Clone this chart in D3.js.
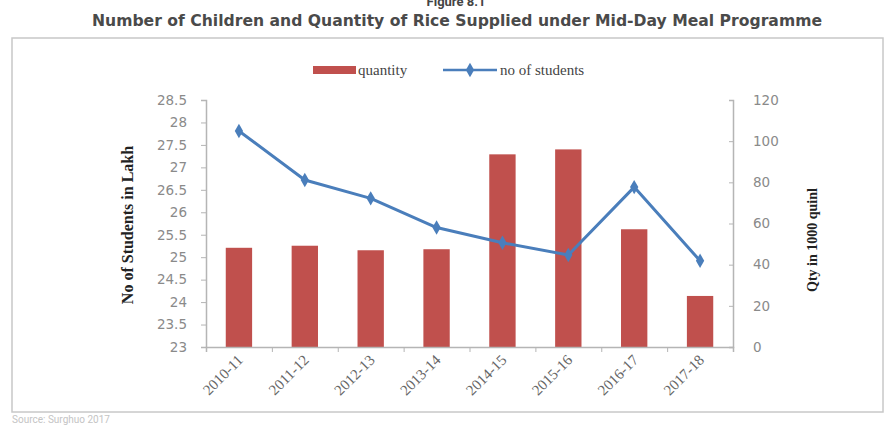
<!DOCTYPE html>
<html><head><meta charset="utf-8">
<script src="https://cdn.jsdelivr.net/npm/d3@7"></script>
<style>body{margin:0;background:#fff;} svg{display:block;}</style>
</head><body>
<svg id="c" width="889" height="426"></svg>
<script>
const categories = ["2010-11","2011-12","2012-13","2013-14","2014-15","2015-16","2016-17","2017-18"];
const quantity = [48.2, 49.2, 47.0, 47.5, 93.6, 96.0, 57.2, 24.8];
const students = [27.81, 26.72, 26.31, 25.66, 25.32, 25.05, 26.56, 24.92];
const leftTicks = [23, 23.5, 24, 24.5, 25, 25.5, 26, 26.5, 27, 27.5, 28, 28.5];
const rightTicks = [0, 20, 40, 60, 80, 100, 120];

const svg = d3.select("#c");
const m = {l: 206, r: 733, t: 100, b: 347};

// outer frame
svg.append("rect").attr("x", 12).attr("y", 38).attr("width", 871).attr("height", 374)
  .attr("fill", "none").attr("stroke", "#c8c8c8").attr("stroke-width", 1.5);

// titles
svg.append("text").attr("x", 456).attr("y", 6).attr("text-anchor", "middle")
  .attr("font-family", "Roboto, sans-serif").attr("font-weight", "bold").attr("font-size", 13)
  .attr("fill", "#444").text("Figure 8.1");
svg.append("text").attr("x", 92).attr("y", 26)
  .attr("font-family", "'DejaVu Sans', sans-serif").attr("font-weight", "bold").attr("font-size", 15.5)
  .attr("textLength", 730).attr("lengthAdjust", "spacingAndGlyphs")
  .attr("fill", "#4a4a4a").text("Number of Children and Quantity of Rice Supplied under Mid-Day Meal Programme");

const x = d3.scaleBand().domain(categories).range([m.l, m.r]).paddingInner(0.6).paddingOuter(0.3);
const xPt = d => x(d) + x.bandwidth() / 2;
const yL = d3.scaleLinear().domain([23, 28.5]).range([m.b, m.t]);
const yR = d3.scaleLinear().domain([0, 120]).range([m.b, m.t]);

// bars
svg.append("g").selectAll("rect").data(categories).join("rect")
  .attr("x", d => x(d)).attr("width", x.bandwidth())
  .attr("y", (d, i) => yR(quantity[i])).attr("height", (d, i) => yR(0) - yR(quantity[i]))
  .attr("fill", "#C0504D");

// axes
const axisCol = "#b5b5b5";
const gL = svg.append("g").attr("transform", `translate(${m.l},0)`)
  .call(d3.axisLeft(yL).tickValues(leftTicks).tickSize(5).tickPadding(14).tickFormat(d3.format("")));
const gR = svg.append("g").attr("transform", `translate(${m.r},0)`)
  .call(d3.axisRight(yR).tickValues(rightTicks).tickSize(-4).tickPadding(20));
[gL, gR].forEach(g => {
  g.select(".domain").attr("stroke", axisCol).attr("stroke-width", 1.5);
  g.selectAll(".tick line").attr("stroke", axisCol);
  g.selectAll("text").attr("font-family", "'DejaVu Sans', sans-serif").attr("font-size", 13.5).attr("fill", "#8a8a8a");
});

const xEdges = d3.scaleLinear().domain([0, categories.length]).range([m.l, m.r]);
const gX = svg.append("g").attr("transform", `translate(0,${m.b})`)
  .call(d3.axisBottom(xEdges).ticks(categories.length).tickSize(5).tickFormat(""));
gX.select(".domain").attr("stroke", axisCol).attr("stroke-width", 1.5);
gX.selectAll(".tick line").attr("stroke", axisCol);

svg.append("g").selectAll("text").data(categories).join("text")
  .attr("transform", d => `translate(${xPt(d) + 5},${m.b + 14}) rotate(-45)`)
  .attr("text-anchor", "end")
  .attr("font-family", "'Liberation Serif', serif").attr("font-size", 15).attr("fill", "#666")
  .text(d => d);

// line
const line = d3.line().x((d, i) => xPt(categories[i])).y(d => yL(d));
svg.append("path").datum(students).attr("d", line).attr("fill", "none")
  .attr("stroke", "#4A7EBB").attr("stroke-width", 3).attr("stroke-linejoin", "round");
const diamond = d3.symbol().type(d3.symbolDiamond).size(60);
svg.append("g").selectAll("path").data(students).join("path")
  .attr("transform", (d, i) => `translate(${xPt(categories[i])},${yL(d)})`)
  .attr("d", diamond).attr("fill", "#4A7EBB");

// axis titles
svg.append("text").attr("transform", "translate(133,225) rotate(-90)").attr("text-anchor", "middle")
  .attr("font-family", "'Liberation Serif', serif").attr("font-weight", "bold").attr("font-size", 16)
  .attr("fill", "#222").text("No of Students in Lakh");
svg.append("text").attr("transform", "translate(817,240) rotate(-90)").attr("text-anchor", "middle")
  .attr("font-family", "'Liberation Serif', serif").attr("font-weight", "bold").attr("font-size", 14)
  .attr("fill", "#222").text("Qty in 1000 quinl");

// legend
const lg = svg.append("g");
lg.append("rect").attr("x", 313).attr("y", 66).attr("width", 43).attr("height", 8).attr("fill", "#C0504D");
lg.append("text").attr("x", 358).attr("y", 75).attr("font-family", "'Liberation Serif', serif")
  .attr("font-size", 15).attr("fill", "#444").text("quantity");
lg.append("line").attr("x1", 443).attr("x2", 497).attr("y1", 70).attr("y2", 70)
  .attr("stroke", "#4A7EBB").attr("stroke-width", 2.5);
lg.append("path").attr("transform", "translate(470,70)").attr("d", diamond).attr("fill", "#4A7EBB");
lg.append("text").attr("x", 500).attr("y", 75).attr("font-family", "'Liberation Serif', serif")
  .attr("font-size", 15).attr("fill", "#444").text("no of students");

// source
svg.append("text").attr("x", 12).attr("y", 423).attr("font-family", "Roboto, sans-serif")
  .attr("font-size", 10).attr("fill", "#c4c4c4").text("Source: Surghuo 2017");
</script>
</body></html>
